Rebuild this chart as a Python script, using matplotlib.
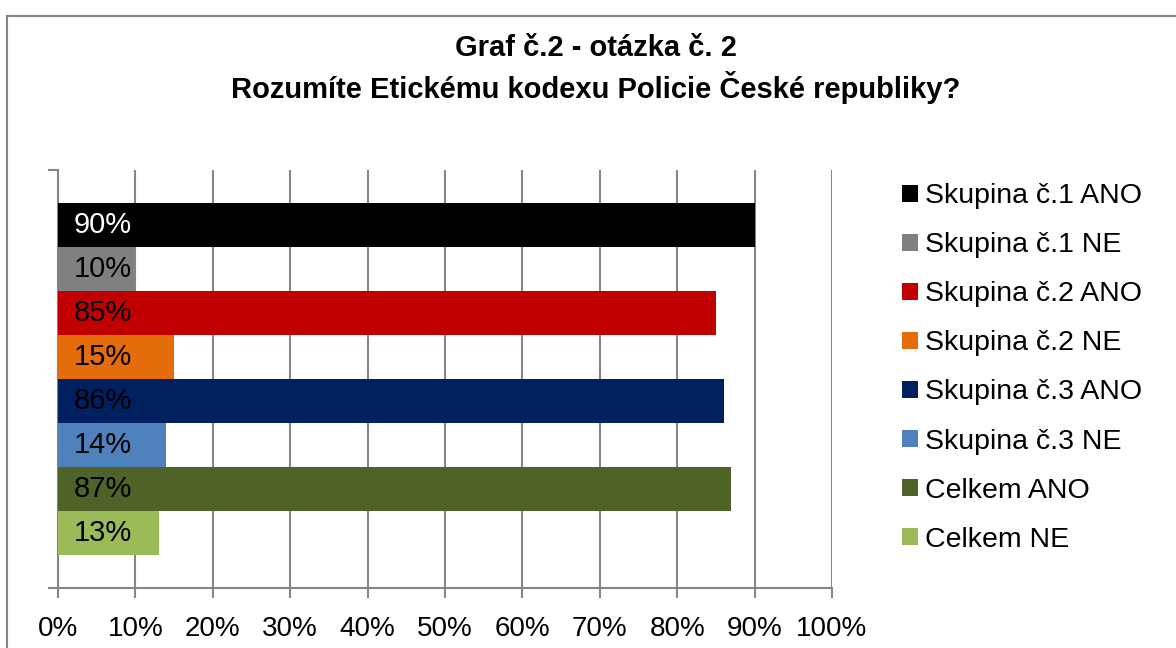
import matplotlib.pyplot as plt
from matplotlib.patches import Rectangle
from matplotlib.ticker import PercentFormatter

plt.rcParams['font.family'] = ['Liberation Sans', 'DejaVu Sans']

series = ['Skupina č.1 ANO', 'Skupina č.1 NE', 'Skupina č.2 ANO', 'Skupina č.2 NE',
          'Skupina č.3 ANO', 'Skupina č.3 NE', 'Celkem ANO', 'Celkem NE']
values = [90, 10, 85, 15, 86, 14, 87, 13]
colors = ['#000000', '#808080', '#C00000', '#E46C0A',
          '#002060', '#4F81BD', '#4F6228', '#9BBB59']
label_colors = ['white', 'black', 'black', 'black', 'black', 'black', 'black', 'black']
xticks = list(range(0, 101, 10))

fig = plt.figure(figsize=(11.76, 6.48), dpi=100)
fig.patches.append(Rectangle((7 / 1176, -0.1), 1.2, 1.1 - 16 / 648,
                             transform=fig.transFigure, fill=False,
                             edgecolor='#868686', linewidth=1.5))

ax = fig.add_axes([58 / 1176, 60 / 648, (832 - 58) / 1176, (588 - 170) / 648])

grid_c = '#868686'
for i, (name, v) in enumerate(zip(series, values)):
    ax.barh(i, v, height=1.0, color=colors[i], label=name, zorder=3)
    ax.text(2.0, i, f'{v}%', va='center', ha='left', fontsize=21,
            color=label_colors[i], zorder=4)

ax.set_xlim(0, 100)
ax.set_ylim(7.5 + 0.75, -0.5 - 0.75)
ax.set_xticks(xticks)
ax.xaxis.set_major_formatter(PercentFormatter(decimals=0))
ax.set_yticks([7.5 + 0.75, -0.5 - 0.75])
ax.set_yticklabels([])
ax.grid(axis='x', color=grid_c, linewidth=1.5, zorder=0)
ax.tick_params(axis='x', length=7.5, width=1.5, color=grid_c, labelsize=20, pad=13)
ax.tick_params(axis='y', length=7.5, width=1.5, color=grid_c)
for s in ['top', 'right']:
    ax.spines[s].set_visible(False)
for s in ['left', 'bottom']:
    ax.spines[s].set_color(grid_c)
    ax.spines[s].set_linewidth(1.5)

fig.text(596 / 1176, 1 - 69 / 648, 'Graf č.2 - otázka č. 2\nRozumíte Etickému kodexu Policie České republiky?',
         ha='center', va='center', fontsize=21, fontweight='bold', linespacing=1.32)

leg = ax.legend(loc='upper left', bbox_to_anchor=(888 / 1176, 1 - 169 / 648),
                bbox_transform=fig.transFigure, frameon=False, fontsize=20.5,
                handlelength=0.56, handleheight=0.56, handletextpad=0.25,
                labelspacing=0.81, borderpad=0)

fig.savefig('out.png', dpi=100)
